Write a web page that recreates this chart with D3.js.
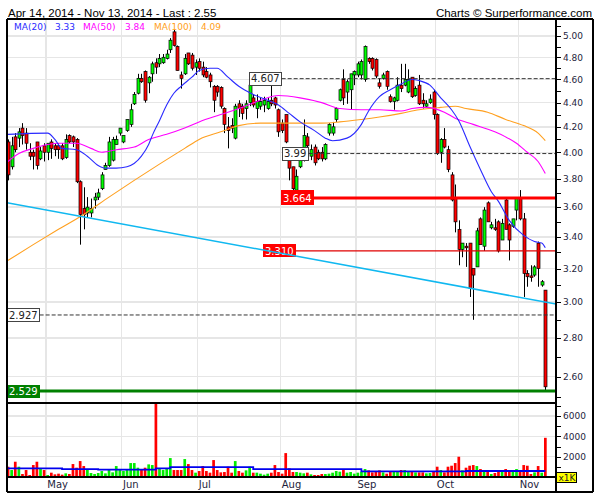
<!DOCTYPE html>
<html><head><meta charset="utf-8">
<script src="https://cdn.jsdelivr.net/npm/d3@7"></script>
<style>body{margin:0;background:#fff}svg{display:block}</style>
</head><body>
<svg id="c" width="600" height="500"></svg>
<script>
// ---------- DATA ----------
const openP = [
4.08,3.89,4.12,4.11,4.19,4.15,4.00,4.00,4.08,3.95,
4.05,4.00,4.08,4.05,4.05,4.05,3.96,4.13,4.12,4.10,
3.78,3.59,3.56,3.56,3.65,3.67,3.73,3.87,3.90,3.94,
4.06,4.15,4.08,4.17,4.22,4.39,4.48,4.61,4.67,4.57,
4.65,4.75,4.74,4.75,4.79,4.87,5.04,4.90,4.64,4.65,
4.84,4.82,4.71,4.76,4.71,4.67,4.64,4.54,4.54,4.53,
4.35,4.20,4.21,4.11,4.39,4.37,4.35,4.40,4.44,4.35,
4.37,4.38,4.35,4.42,4.44,4.34,4.23,4.30,3.94,3.89,
3.72,3.89,3.94,4.12,3.97,4.04,4.00,4.00,3.95,4.15,
4.15,4.26,4.42,4.60,4.49,4.51,4.64,4.64,4.64,4.60,
4.79,4.79,4.78,4.57,4.61,4.67,4.45,4.41,4.42,4.55,
4.55,4.49,4.62,4.46,4.55,4.42,4.37,4.40,4.49,4.30,
4.00,4.10,4.02,3.83,3.66,3.45,3.32,3.34,3.36,3.20,
3.21,3.52,3.34,3.63,3.46,3.46,3.50,3.38,3.65,3.48,
3.47,3.58,3.66,3.52,3.17,3.155,3.16,3.36,3.10,3.07];
const highP = [
4.10,4.12,4.15,4.19,4.23,4.19,4.07,4.02,4.08,4.04,
4.07,4.07,4.10,4.07,4.07,4.07,4.14,4.14,4.13,4.11,
3.79,3.74,3.67,3.66,3.70,3.73,3.85,3.92,4.12,4.12,
4.13,4.19,4.13,4.26,4.39,4.49,4.65,4.65,4.68,4.63,
4.76,4.79,4.83,4.83,4.87,4.98,5.06,4.91,4.67,4.83,
4.84,4.84,4.78,4.79,4.76,4.71,4.66,4.55,4.55,4.54,
4.36,4.28,4.27,4.39,4.42,4.39,4.42,4.57,4.47,4.47,
4.44,4.45,4.44,4.56,4.45,4.35,4.26,4.30,4.03,3.89,
3.87,4.00,4.26,4.15,4.06,4.06,4.02,4.04,4.07,4.23,
4.24,4.36,4.52,4.69,4.60,4.65,4.68,4.76,4.78,4.91,
4.80,4.80,4.79,4.61,4.66,4.68,4.47,4.45,4.62,4.74,
4.74,4.69,4.62,4.54,4.64,4.48,4.42,4.47,4.51,4.31,
4.11,4.19,4.05,3.85,3.76,3.51,3.36,3.36,3.36,3.20,
3.46,3.53,3.60,3.64,3.50,3.52,3.51,3.52,3.67,3.49,
3.52,3.67,3.72,3.56,3.19,3.22,3.22,3.37,3.13,3.07];
const lowP = [
3.79,3.87,4.00,4.04,4.06,4.02,3.94,3.87,3.87,3.94,
3.93,3.94,3.95,3.97,3.95,3.94,3.95,4.07,4.04,3.77,
3.35,3.45,3.53,3.53,3.59,3.65,3.72,3.87,3.89,3.93,
4.06,4.13,4.07,4.16,4.20,4.38,4.47,4.57,4.40,4.48,
4.58,4.65,4.71,4.74,4.78,4.84,4.90,4.68,4.52,4.64,
4.73,4.68,4.64,4.67,4.62,4.61,4.53,4.32,4.45,4.35,
4.15,4.03,4.15,4.10,4.28,4.26,4.26,4.37,4.36,4.27,
4.34,4.32,4.34,4.37,4.35,4.12,4.15,4.07,3.79,3.72,
3.71,3.88,3.93,4.02,3.94,3.90,3.94,3.93,3.94,4.13,
4.13,4.24,4.41,4.38,4.39,4.34,4.55,4.62,4.60,4.58,
4.74,4.68,4.61,4.52,4.60,4.51,4.40,4.34,4.41,4.49,
4.54,4.48,4.44,4.45,4.38,4.35,4.36,4.39,4.26,3.98,
3.92,4.03,3.85,3.64,3.43,3.22,3.27,3.21,3.03,2.90,
3.21,3.35,3.31,3.50,3.45,3.44,3.30,3.38,3.45,3.25,
3.46,3.51,3.51,3.03,3.09,3.12,3.15,3.09,3.09,2.53];
const closeP = [
3.83,4.05,4.02,4.16,4.13,4.07,3.97,3.97,3.90,4.01,
4.00,4.07,4.03,4.02,4.02,3.95,4.10,4.08,4.08,3.78,
3.55,3.55,3.60,3.59,3.67,3.70,3.83,3.90,4.08,4.10,
4.10,4.19,4.13,4.26,4.34,4.47,4.61,4.58,4.42,4.62,
4.74,4.71,4.79,4.80,4.83,4.96,4.91,4.68,4.61,4.79,
4.74,4.70,4.75,4.70,4.64,4.62,4.58,4.42,4.49,4.37,
4.22,4.17,4.19,4.37,4.35,4.31,4.39,4.55,4.38,4.41,
4.41,4.42,4.41,4.39,4.38,4.16,4.17,4.08,3.88,3.73,
3.82,3.94,4.13,4.05,4.02,3.92,3.95,3.95,4.06,4.22,
4.20,4.35,4.51,4.44,4.58,4.65,4.67,4.74,4.76,4.90,
4.76,4.70,4.63,4.54,4.64,4.54,4.41,4.44,4.55,4.52,
4.60,4.60,4.45,4.52,4.39,4.39,4.39,4.43,4.30,3.99,
4.10,4.04,3.87,3.65,3.50,3.32,3.36,3.33,3.08,3.16,
3.44,3.35,3.58,3.50,3.48,3.45,3.31,3.49,3.45,3.38,
3.52,3.66,3.52,3.17,3.15,3.145,3.21,3.20,3.12,2.55];
const volume = [
1013,686,1503,1013,294,686,196,1176,1503,784,
686,196,425,261,327,229,359,294,1274,915,
1568,1078,784,392,294,392,588,359,686,457,
1078,686,588,751,1372,1372,915,784,915,1241,
1176,9000,784,686,849,1862,686,686,686,1764,
1274,686,425,588,1078,588,425,1666,686,457,
490,1013,425,1568,588,425,653,1013,425,425,
327,229,327,425,1176,490,327,2352,849,490,
490,425,360,425,260,196,196,294,294,327,
425,588,523,686,425,490,327,425,523,784,
653,457,523,653,457,327,523,523,523,686,
686,523,588,457,457,457,360,392,588,1013,
686,457,1013,1110,1372,1993,653,915,1110,1176,
1078,784,686,523,294,392,588,686,784,588,
588,784,523,1176,1110,294,457,1078,425,3855];
const volAvgStart = [0,15,25,41,45,68,98,127];
const volAvgVal   = [850,784,719,850,980,784,555,588];

const ma20 = [[0,4.14],[11,4.15],[13,4.10],[15,4.03],[19,4.02],[22,3.97],[25,3.90],[27,3.88],[30,3.88],[33,3.89],[37,3.97],[39,4.06],[40,4.13],[42,4.25],[44,4.38],[46,4.48],[48,4.54],[51,4.62],[53,4.68],[56,4.70],[58,4.70],[61,4.62],[64,4.54],[68,4.47],[72,4.42],[75,4.38],[78,4.31],[81,4.24],[85,4.17],[88,4.11],[90,4.09],[94,4.11],[98,4.22],[100,4.33],[103,4.45],[106,4.51],[109,4.56],[112,4.60],[114,4.59],[117,4.55],[120,4.44],[123,4.34],[125,4.25],[128,4.05],[131,3.87],[134,3.71],[136,3.64],[139,3.51],[143,3.41],[146,3.37],[148,3.36],[149,3.33]];
const ma50 = [[0,3.93],[3,3.99],[7,4.03],[11,4.06],[14,4.07],[19,4.07],[23,4.03],[26,4.00],[30,4.02],[35,4.04],[39,4.10],[44,4.14],[49,4.19],[53,4.24],[59,4.30],[64,4.35],[70,4.42],[75,4.46],[81,4.44],[87,4.40],[92,4.35],[98,4.34],[103,4.34],[109,4.33],[112,4.35],[116,4.36],[121,4.32],[124,4.27],[129,4.22],[135,4.16],[138,4.12],[141,4.07],[144,4.00],[147,3.93],[149,3.84]];
const ma100 = [[0,3.25],[7,3.35],[14,3.45],[21,3.55],[28,3.67],[35,3.79],[42,3.91],[49,4.03],[53,4.10],[59,4.16],[64,4.21],[70,4.23],[81,4.23],[87,4.23],[92,4.24],[98,4.26],[103,4.28],[109,4.31],[114,4.34],[120,4.36],[124,4.37],[127,4.35],[133,4.32],[138,4.26],[143,4.21],[147,4.15],[149,4.09]];
const trend = [[0,3.63],[149,3.00]];

const maNames  = ["MA(20)","MA(50)","MA(100)"];
const maLast   = ["3.33","3.84","4.09"];
const maColors = ["#2a2aff","#ff00ff","#ffa020"];

const levelValues = [4.607,3.99,3.664,3.31,2.927,2.529];
const levelTexts  = ["4.607","3.99","3.664","3.310","2.927","2.529"];
const levelKinds  = ["dash","dash","red","redThin","dash","green"];

const monthLabels = ["May","Jun","Jul","Aug","Sep","Oct","Nov"];
const monthStart  = [11,32,53,76,97,119,142];
const priceTickLabels = ["2.60","2.80","3.00","3.20","3.40","3.60","3.80","4.00","4.20","4.40","4.60","4.80","5.00"];
const priceMinor = [2.5,2.6,2.7,2.8,2.9,3.0,3.1,3.2,3.3,3.4,3.5,3.6,3.7,3.8,3.9,4.0,4.1,4.2,4.3,4.4,4.5,4.6,4.7,4.8,4.9,5.0,5.1];
const volTickLabels = ["2000","4000","6000"];
const volMinor = [1000,2000,3000,4000,5000,6000,7000];
const titleText = "Apr 14, 2014 - Nov 13, 2014 - Last : 2.55";
const creditText = "Charts \u00A9 Surperformance.com";

// ---------- LAYOUT ----------
const L=7, R=556, T=19, MB=403, VB=477, B=492, OR=593;
const levelLabelX = [249,282,281,263,7,7];
const legendX = [14,55,83,125,154,201];

const x = d3.scaleLinear().domain([0,149]).range([8,545.3]);
const y = d3.scaleLog().domain([2.472,5.166]).range([MB,T]);
const yv = d3.scaleLinear().domain([0,7280]).range([VB,MB]);

const svg = d3.select("#c");
const defs = svg.append("defs");
defs.append("clipPath").attr("id","cm").append("rect").attr("x",L).attr("y",T).attr("width",R-L).attr("height",MB-T);
defs.append("clipPath").attr("id","cv").append("rect").attr("x",L).attr("y",MB).attr("width",R-L).attr("height",VB-MB);

const gridC = "#e6e6e6";
const g = svg.append("g").attr("shape-rendering","crispEdges");
g.selectAll(".hp").data(priceTickLabels).join("line")
  .attr("x1",L).attr("x2",R).attr("y1",d=>y(+d)).attr("y2",d=>y(+d))
  .attr("stroke",gridC).attr("stroke-width",1.5);
g.selectAll(".hv").data(volTickLabels).join("line")
  .attr("x1",L).attr("x2",R).attr("y1",d=>yv(+d)).attr("y2",d=>yv(+d))
  .attr("stroke",gridC).attr("stroke-width",1.5);
g.selectAll(".vm").data(monthStart).join("line")
  .attr("x1",d=>x(d-0.5)).attr("x2",d=>x(d-0.5)).attr("y1",T).attr("y2",VB)
  .attr("stroke",gridC).attr("stroke-width",1.5);

// ---------- VOLUME ----------
const up = i => closeP[i] >= openP[i];
const vg = svg.append("g").attr("clip-path","url(#cv)");
vg.selectAll("rect").data(volume).join("rect")
  .attr("x",(d,i)=>x(i)-1.3).attr("width",2.7)
  .attr("y",d=>yv(d)).attr("height",d=>VB-yv(d))
  .attr("fill",(d,i)=>up(i)?"#00ee00":"#ff0000");
const vaPts = volAvgStart.map((s,k)=>[s,volAvgVal[k]]).concat([[149,volAvgVal[volAvgVal.length-1]]]);
vg.append("path").attr("d",d3.line().x(d=>x(d[0])).y(d=>yv(d[1])).curve(d3.curveStepAfter)(vaPts))
  .attr("fill","none").attr("stroke","#0000ee").attr("stroke-width",1.8);

// ---------- CANDLES ----------
const cg = svg.append("g").attr("clip-path","url(#cm)");
const idx = d3.range(openP.length);
cg.selectAll(".w").data(idx).join("line")
  .attr("x1",i=>Math.round(x(i))+0.5).attr("x2",i=>Math.round(x(i))+0.5)
  .attr("y1",i=>y(highP[i])).attr("y2",i=>y(lowP[i]))
  .attr("stroke","#000").attr("stroke-width",1);
cg.selectAll(".b").data(idx).join("rect")
  .attr("x",i=>Math.round(x(i))-1).attr("width",3)
  .attr("y",i=>y(Math.max(openP[i],closeP[i])))
  .attr("height",i=>Math.max(1,Math.abs(y(openP[i])-y(closeP[i]))))
  .attr("fill",i=>up(i)?"#00ff00":"#ff0000")
  .attr("stroke","#000").attr("stroke-width",0.7);

// ---------- MOVING AVERAGES ----------
const maLine = d3.line().x(d=>x(d[0])).y(d=>y(d[1])).curve(d3.curveMonotoneX);
[ma100,ma50,ma20].forEach((s,k)=>{
  cg.append("path").attr("d",maLine(s)).attr("fill","none")
    .attr("stroke",maColors[2-k]).attr("stroke-width",1.1);
});

// ---------- LEVELS ----------
const lg = svg.append("g");
levelValues.forEach((v,k)=>{
  const kind = levelKinds[k], yy = y(v), lx = levelLabelX[k];
  const t = lg.append("text").attr("x",lx+2).attr("y",yy+3.6)
    .attr("font-family","DejaVu Sans, Verdana, sans-serif").attr("font-size",10)
    .text(levelTexts[k]);
  const tw = t.node().getComputedTextLength();
  const bw = tw+4, bh = kind==="red"?15:13;
  const fill = kind==="red"||kind==="redThin" ? "#ff0000" : kind==="green" ? "#008000" : "#ffffff";
  const rx = lg.insert("rect","text").attr("x",lx).attr("y",yy-bh/2).attr("width",bw).attr("height",bh)
    .attr("fill",fill).attr("shape-rendering","crispEdges");
  if(kind==="dash") rx.attr("stroke","#444").attr("stroke-width",1);
  t.attr("fill", kind==="dash" ? "#222" : "#ffffff");
  const ln = lg.append("line").attr("x1",lx+bw).attr("x2",R).attr("y1",yy).attr("y2",yy);
  if(kind==="dash") ln.attr("stroke","#333").attr("stroke-width",1).attr("stroke-dasharray","4,2");
  else if(kind==="red") ln.attr("stroke","#ff0000").attr("stroke-width",3);
  else if(kind==="redThin") ln.attr("stroke","#e00000").attr("stroke-width",1.4);
  else ln.attr("stroke","#008000").attr("stroke-width",3);
});

// ---------- TREND LINE ----------
const tx0=x(trend[0][0]), ty0=y(trend[0][1]), tx1=x(trend[1][0]), ty1=y(trend[1][1]);
const sl=(ty1-ty0)/(tx1-tx0);
svg.append("line").attr("x1",L).attr("y1",ty0+sl*(L-tx0)).attr("x2",R).attr("y2",ty0+sl*(R-tx0))
  .attr("stroke","#10b8f0").attr("stroke-width",1.5).attr("clip-path","url(#cm)");

// ---------- FRAME ----------
const fr = svg.append("g").attr("stroke","#000").attr("stroke-width",1.6).attr("shape-rendering","crispEdges");
[[L,T,OR,T],[L,T,L,B],[L,B,OR,B],[OR,T,OR,B],[R,T,R,B],[L,MB,R,MB],[L,VB,R,VB]].forEach(a=>{
  fr.append("line").attr("x1",a[0]).attr("y1",a[1]).attr("x2",a[2]).attr("y2",a[3]);
});

// ---------- AXES ----------
const ax = svg.append("g").attr("font-family","DejaVu Sans, Verdana, sans-serif").attr("font-size",9).attr("fill","#1e1e3c");
ax.selectAll(".pt").data(priceMinor).join("line")
  .attr("x1",R).attr("x2",R+5).attr("y1",d=>Math.round(y(d))+0.5).attr("y2",d=>Math.round(y(d))+0.5)
  .attr("stroke","#000").attr("stroke-width",1);
ax.selectAll(".pl").data(priceTickLabels).join("text")
  .attr("x",R+7).attr("y",d=>y(+d)+3.3).text(d=>d);
ax.selectAll(".vt").data(volMinor).join("line")
  .attr("x1",R).attr("x2",R+5).attr("y1",d=>Math.round(yv(d))+0.5).attr("y2",d=>Math.round(yv(d))+0.5)
  .attr("stroke","#000").attr("stroke-width",1);
ax.selectAll(".vl").data(volTickLabels).join("text")
  .attr("x",R+7).attr("y",d=>yv(+d)+3.3).text(d=>d);
ax.append("rect").attr("x",R+0.5).attr("y",472.5).attr("width",20).attr("height",9.5)
  .attr("fill","#ffff00").attr("stroke","#000").attr("stroke-width",1).attr("shape-rendering","crispEdges");
ax.append("text").attr("x",R+2.5).attr("y",480.6).attr("fill","#222").text("x1K");
ax.selectAll(".ml").data(monthLabels).join("text")
  .attr("x",(d,k)=>x(monthStart[k]-0.5)+1.5).attr("y",488).attr("font-size",10).text(d=>d);

// ---------- HEADER & LEGEND ----------
svg.append("text").attr("x",8).attr("y",16.5).attr("font-family","Liberation Sans, Arial, sans-serif")
  .attr("font-size",11.5).attr("fill","#000").text(titleText);
svg.append("text").attr("x",592).attr("y",16.5).attr("text-anchor","end").attr("font-family","Liberation Sans, Arial, sans-serif")
  .attr("font-size",11.5).attr("fill","#000").text(creditText);
const leg = svg.append("g").attr("font-family","DejaVu Sans, Verdana, sans-serif").attr("font-size",9);
maNames.forEach((n,k)=>{
  leg.append("text").attr("x",legendX[2*k]).attr("y",30).attr("fill",maColors[k]).text(n);
  leg.append("text").attr("x",legendX[2*k+1]).attr("y",30).attr("fill",maColors[k]).text(maLast[k]);
});
</script>
</body></html>
